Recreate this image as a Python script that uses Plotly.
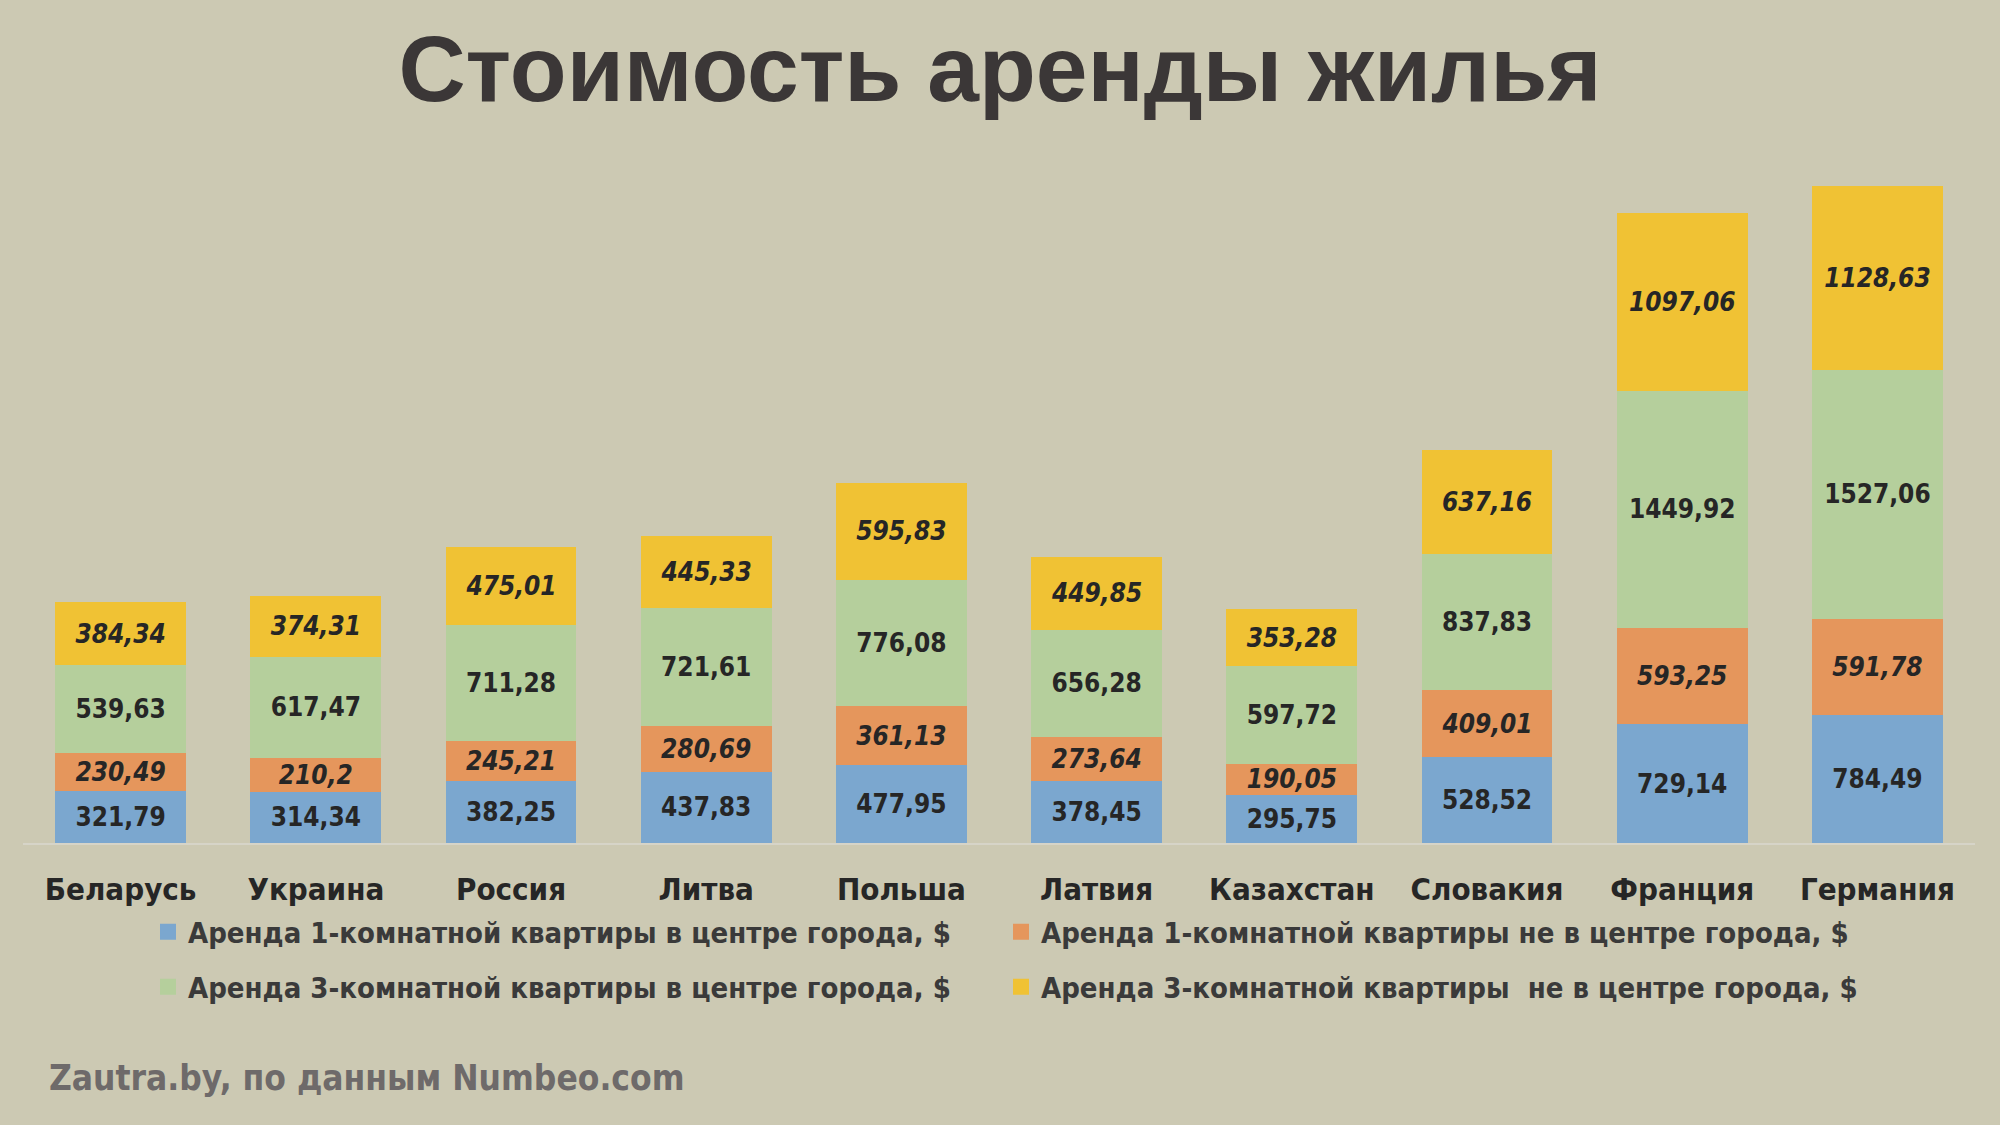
import plotly.graph_objects as go

countries = ["Беларусь", "Украина", "Россия", "Литва", "Польша",
             "Латвия", "Казахстан", "Словакия", "Франция", "Германия"]
one_room_center = [321.79, 314.34, 382.25, 437.83, 477.95, 378.45, 295.75, 528.52, 729.14, 784.49]
one_room_outside = [230.49, 210.2, 245.21, 280.69, 361.13, 273.64, 190.05, 409.01, 593.25, 591.78]
three_room_center = [539.63, 617.47, 711.28, 721.61, 776.08, 656.28, 597.72, 837.83, 1449.92, 1527.06]
three_room_outside = [384.34, 374.31, 475.01, 445.33, 595.83, 449.85, 353.28, 637.16, 1097.06, 1128.63]

series_names = [
    "Аренда 1-комнатной квартиры в центре города, $",
    "Аренда 1-комнатной квартиры не в центре города, $",
    "Аренда 3-комнатной квартиры в центре города, $",
    "Аренда 3-комнатной квартиры  не в центре города, $",
]
series_values = [one_room_center, one_room_outside, three_room_center, three_room_outside]
series_colors = ["#7BA7CF", "#E5965C", "#B5CF9C", "#F0C234"]
series_italic = [False, True, False, True]
series_legend = ["legend", "legend2", "legend3", "legend4"]

NARROW = "Liberation Sans Narrow, Arial Narrow, DejaVu Sans Condensed, sans-serif"
BG = "#CCC9B3"

PLOT_TOP, PLOT_BOTTOM = 150, 843
PLOT_H = PLOT_BOTTOM - PLOT_TOP

fig = go.Figure()
for name, vals, col, ital in zip(series_names, series_values, series_colors, series_italic):
    fig.add_trace(go.Bar(
        x=countries, y=vals, name=name, showlegend=False,
        marker=dict(color=col, line=dict(width=0)),
        text=[str(v).replace(".", ",") for v in vals],
        texttemplate="%{text}",
        textposition="inside", insidetextanchor="middle", textangle=0,
        textfont=dict(family=NARROW, size=26, color="#262626",
                      weight="bold", style="italic" if ital else "normal"),
        hoverinfo="skip",
    ))

# legend entries (square swatches)
for name, col, lg in zip(series_names, series_colors, series_legend):
    fig.add_trace(go.Scatter(
        x=[None], y=[None], mode="markers", name=name, legend=lg,
        marker=dict(symbol="square", size=16, color=col),
        hoverinfo="skip",
    ))

legend_common = dict(orientation="h", xref="container", xanchor="left",
                     yref="container", yanchor="middle",
                     font=dict(family=NARROW, size=29, color="#3A3A3A", weight="bold"),
                     bgcolor="rgba(0,0,0,0)", itemclick=False, itemdoubleclick=False)
col_x = [148, 1001, 148, 1001]
row_y = [932, 932, 987, 987]

legends = {}
for lg, cx, ry in zip(series_legend, col_x, row_y):
    legends[lg] = dict(x=cx / 2000, y=1 - ry / 1125, **legend_common)

fig.update_layout(
    width=2000, height=1125,
    barmode="stack", bargap=0.33,
    paper_bgcolor=BG, plot_bgcolor=BG,
    margin=dict(l=23, r=25, t=PLOT_TOP, b=1125 - PLOT_BOTTOM, autoexpand=False),
    uniformtext=dict(minsize=26, mode="show"),
    title=dict(text="Стоимость аренды жилья", x=0.5, xanchor="center",
               y=1 - 68 / 1125, yanchor="middle", yref="container",
               font=dict(family="Liberation Sans, Arial, sans-serif", size=93,
                         color="#3B3737", weight="bold")),
    xaxis=dict(showline=True, linecolor="#D6D4C8", linewidth=2, ticks="",
               showgrid=False, ticklabelstandoff=18, automargin=False,
               tickfont=dict(family=NARROW, size=31, color="#262626", weight="bold")),
    yaxis=dict(visible=False, range=[0, 4253], showgrid=False),
    annotations=[dict(text="Zautra.by, по данным Numbeo.com", xref="paper", yref="paper",
                      x=(47 - 23) / 1952, xanchor="left",
                      y=(PLOT_BOTTOM - 1078) / PLOT_H, yanchor="middle",
                      showarrow=False,
                      font=dict(family=NARROW, size=35, color="#6E6A6A", weight="bold"))],
    **legends,
)

fig.write_html("out.html", config={"displayModeBar": False},
               post_script="document.body.style.margin='0';")
